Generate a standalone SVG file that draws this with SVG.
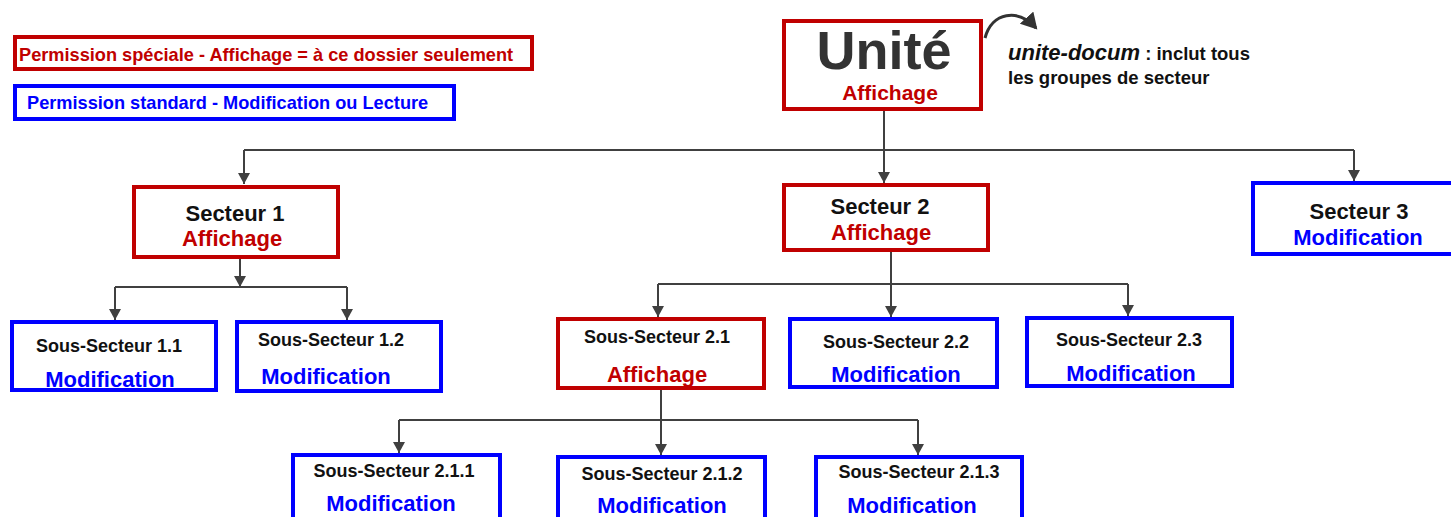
<svg xmlns="http://www.w3.org/2000/svg" width="1451" height="517" viewBox="0 0 1451 517">
<style>
text{font-family:"Liberation Sans",Arial,sans-serif;font-weight:bold;}
.r{fill:#fff;stroke:#C00000;stroke-width:4}
.b{fill:#fff;stroke:#0000FF;stroke-width:4}
.t{fill:#111;text-anchor:middle}
.ra{fill:#C00000;text-anchor:middle}
.ba{fill:#0000FF;text-anchor:middle}
.c{fill:none;stroke:#404040;stroke-width:2}
.s{font-size:18px}
.m{font-size:22px}
</style>
<defs>
<marker id="ah" markerWidth="12" markerHeight="12" refX="11" refY="6" orient="auto" markerUnits="userSpaceOnUse" viewBox="0 0 12 12">
<path d="M0,0 L11,6 L0,12 Z" fill="#404040"/>
</marker>
<marker id="ah2" markerWidth="18" markerHeight="18" refX="14" refY="9" orient="auto" markerUnits="userSpaceOnUse" viewBox="0 0 18 18">
<path d="M0,0 L16,9 L0,18 Z" fill="#333"/>
</marker>
</defs>
<rect width="1451" height="517" fill="#fff"/>

<g id="legend">
<rect class="r" x="15" y="37" width="517" height="32"/>
<text x="19" y="61" fill="#C00000" font-size="18.2">Permission spéciale - Affichage = à ce dossier seulement</text>
<rect class="b" x="15" y="86" width="439" height="33"/>
<text x="27" y="109" fill="#0000FF" font-size="18.2">Permission standard - Modification ou Lecture</text>
</g>

<g id="connectors">
<path class="c" d="M884,110 V150 M244,150 H1354"/>
<path class="c" d="M244,150 V184" marker-end="url(#ah)"/>
<path class="c" d="M884,150 V183" marker-end="url(#ah)"/>
<path class="c" d="M1354,150 V181" marker-end="url(#ah)"/>
<path class="c" d="M115,287 H347"/>
<path class="c" d="M240,257 V287" marker-end="url(#ah)"/>
<path class="c" d="M115,287 V320" marker-end="url(#ah)"/>
<path class="c" d="M347,287 V320" marker-end="url(#ah)"/>
<path class="c" d="M891,250 V284 M658,284 H1128"/>
<path class="c" d="M658,284 V317" marker-end="url(#ah)"/>
<path class="c" d="M891,284 V317" marker-end="url(#ah)"/>
<path class="c" d="M1128,284 V316" marker-end="url(#ah)"/>
<path class="c" d="M661,388 V420 M399,420 H918"/>
<path class="c" d="M399,420 V453" marker-end="url(#ah)"/>
<path class="c" d="M661,420 V455" marker-end="url(#ah)"/>
<path class="c" d="M918,420 V455" marker-end="url(#ah)"/>
<path d="M985,38 C992,12 1018,8 1036,28" fill="none" stroke="#333" stroke-width="3" marker-end="url(#ah2)"/>
</g>

<g id="unite">
<rect class="r" x="784" y="21" width="197" height="88"/>
<text x="884" y="69" font-size="54" fill="#333" text-anchor="middle">Unité</text>
<text class="ra" x="890" y="100" font-size="21">Affichage</text>
</g>

<g id="unite-note">
<text x="1008" y="60" font-size="22" font-style="italic" fill="#111">unite-docum<tspan font-size="18.5" font-style="normal"> : inclut tous</tspan></text>
<text x="1008" y="84" font-size="18.5" fill="#111">les groupes de secteur</text>
</g>

<g id="secteur1">
<rect class="r" x="134" y="187" width="204" height="70"/>
<text class="t m" x="235" y="221">Secteur 1</text>
<text class="ra m" x="232" y="246">Affichage</text>
</g>

<g id="secteur2">
<rect class="r" x="784" y="185" width="204" height="65"/>
<text class="t m" x="880" y="214">Secteur 2</text>
<text class="ra m" x="881" y="240">Affichage</text>
</g>

<g id="secteur3">
<rect class="b" x="1253" y="183" width="200" height="71"/>
<text class="t m" x="1359" y="219">Secteur 3</text>
<text class="ba m" x="1358" y="245">Modification</text>
</g>

<g id="ss11">
<rect class="b" x="12" y="322" width="204" height="68"/>
<text class="t s" x="109" y="352">Sous-Secteur 1.1</text>
<text class="ba m" x="110" y="387">Modification</text>
</g>

<g id="ss12">
<rect class="b" x="237" y="322" width="204" height="69"/>
<text class="t s" x="331" y="346">Sous-Secteur 1.2</text>
<text class="ba m" x="326" y="384">Modification</text>
</g>

<g id="ss21">
<rect class="r" x="558" y="319" width="206" height="69"/>
<text class="t s" x="657" y="343">Sous-Secteur 2.1</text>
<text class="ra m" x="657" y="382">Affichage</text>
</g>

<g id="ss22">
<rect class="b" x="790" y="319" width="207" height="68"/>
<text class="t s" x="896" y="348">Sous-Secteur 2.2</text>
<text class="ba m" x="896" y="382">Modification</text>
</g>

<g id="ss23">
<rect class="b" x="1027" y="318" width="205" height="68"/>
<text class="t s" x="1129" y="346">Sous-Secteur 2.3</text>
<text class="ba m" x="1131" y="381">Modification</text>
</g>

<g id="ss211">
<rect class="b" x="293" y="455" width="207" height="64"/>
<text class="t s" x="394" y="477">Sous-Secteur 2.1.1</text>
<text class="ba m" x="391" y="511">Modification</text>
</g>

<g id="ss212">
<rect class="b" x="558" y="457" width="207" height="62"/>
<text class="t s" x="662" y="480">Sous-Secteur 2.1.2</text>
<text class="ba m" x="662" y="513">Modification</text>
</g>

<g id="ss213">
<rect class="b" x="816" y="457" width="206" height="62"/>
<text class="t s" x="919" y="478">Sous-Secteur 2.1.3</text>
<text class="ba m" x="912" y="513">Modification</text>
</g>
</svg>
